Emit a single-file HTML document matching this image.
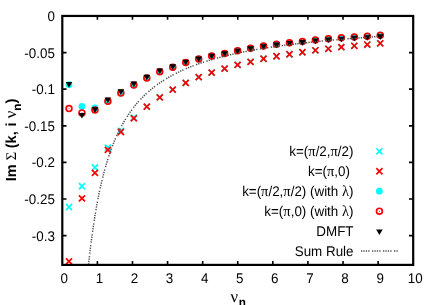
<!DOCTYPE html>
<html><head><meta charset="utf-8"><style>
html,body{margin:0;padding:0;background:#fff;}
svg{display:block;will-change:transform}
text{font-family:"Liberation Sans",sans-serif;font-size:13.4px;fill:#000;text-rendering:geometricPrecision}
.g{font-family:"Liberation Serif",serif;font-size:14.5px}
.gy{font-family:"Liberation Serif",serif}
</style></head><body>
<svg width="436" height="305" viewBox="0 0 436 305">
<path d="M65.93 203.95L72.03 210.05M65.93 210.05L72.03 203.95" stroke="#00ffff" stroke-width="1.7" fill="none"/><path d="M78.90 183.20L85.00 189.30M78.90 189.30L85.00 183.20" stroke="#00ffff" stroke-width="1.7" fill="none"/><path d="M91.87 164.45L97.97 170.55M91.87 170.55L97.97 164.45" stroke="#00ffff" stroke-width="1.7" fill="none"/><path d="M104.84 144.65L110.94 150.75M104.84 150.75L110.94 144.65" stroke="#00ffff" stroke-width="1.7" fill="none"/><path d="M117.81 127.75L123.91 133.85M117.81 133.85L123.91 127.75" stroke="#00ffff" stroke-width="1.7" fill="none"/><path d="M130.78 114.55L136.88 120.65M130.78 120.65L136.88 114.55" stroke="#00ffff" stroke-width="1.7" fill="none"/><path d="M143.75 103.60L149.85 109.70M143.75 109.70L149.85 103.60" stroke="#00ffff" stroke-width="1.7" fill="none"/><path d="M156.72 94.35L162.82 100.45M156.72 100.45L162.82 94.35" stroke="#00ffff" stroke-width="1.7" fill="none"/><path d="M169.69 86.60L175.79 92.70M169.69 92.70L175.79 86.60" stroke="#00ffff" stroke-width="1.7" fill="none"/><path d="M182.66 79.85L188.76 85.95M182.66 85.95L188.76 79.85" stroke="#00ffff" stroke-width="1.7" fill="none"/><path d="M195.63 74.10L201.73 80.20M195.63 80.20L201.73 74.10" stroke="#00ffff" stroke-width="1.7" fill="none"/><path d="M208.60 69.60L214.70 75.70M208.60 75.70L214.70 69.60" stroke="#00ffff" stroke-width="1.7" fill="none"/><path d="M221.57 65.60L227.67 71.70M221.57 71.70L227.67 65.60" stroke="#00ffff" stroke-width="1.7" fill="none"/><path d="M234.54 61.85L240.64 67.95M234.54 67.95L240.64 61.85" stroke="#00ffff" stroke-width="1.7" fill="none"/><path d="M247.50 58.79L253.60 64.89M247.50 64.89L253.60 58.79" stroke="#00ffff" stroke-width="1.7" fill="none"/><path d="M260.47 55.69L266.57 61.79M260.47 61.79L266.57 55.69" stroke="#00ffff" stroke-width="1.7" fill="none"/><path d="M273.44 53.19L279.54 59.29M273.44 59.29L279.54 53.19" stroke="#00ffff" stroke-width="1.7" fill="none"/><path d="M286.41 51.19L292.51 57.29M286.41 57.29L292.51 51.19" stroke="#00ffff" stroke-width="1.7" fill="none"/><path d="M299.38 49.19L305.48 55.29M299.38 55.29L305.48 49.19" stroke="#00ffff" stroke-width="1.7" fill="none"/><path d="M312.35 47.24L318.45 53.34M312.35 53.34L318.45 47.24" stroke="#00ffff" stroke-width="1.7" fill="none"/><path d="M325.32 45.74L331.42 51.84M325.32 51.84L331.42 45.74" stroke="#00ffff" stroke-width="1.7" fill="none"/><path d="M338.29 44.09L344.39 50.19M338.29 50.19L344.39 44.09" stroke="#00ffff" stroke-width="1.7" fill="none"/><path d="M351.26 42.74L357.36 48.84M351.26 48.84L357.36 42.74" stroke="#00ffff" stroke-width="1.7" fill="none"/><path d="M364.23 41.49L370.33 47.59M364.23 47.59L370.33 41.49" stroke="#00ffff" stroke-width="1.7" fill="none"/><path d="M377.20 40.24L383.30 46.34M377.20 46.34L383.30 40.24" stroke="#00ffff" stroke-width="1.7" fill="none"/><path d="M65.93 258.35L72.03 264.45M65.93 264.45L72.03 258.35" stroke="#ff0000" stroke-width="1.7" fill="none"/><path d="M78.90 195.35L85.00 201.45M78.90 201.45L85.00 195.35" stroke="#ff0000" stroke-width="1.7" fill="none"/><path d="M91.87 169.85L97.97 175.95M91.87 175.95L97.97 169.85" stroke="#ff0000" stroke-width="1.7" fill="none"/><path d="M104.84 146.85L110.94 152.95M104.84 152.95L110.94 146.85" stroke="#ff0000" stroke-width="1.7" fill="none"/><path d="M117.81 128.95L123.91 135.05M117.81 135.05L123.91 128.95" stroke="#ff0000" stroke-width="1.7" fill="none"/><path d="M130.78 115.35L136.88 121.45M130.78 121.45L136.88 115.35" stroke="#ff0000" stroke-width="1.7" fill="none"/><path d="M143.75 103.60L149.85 109.70M143.75 109.70L149.85 103.60" stroke="#ff0000" stroke-width="1.7" fill="none"/><path d="M156.72 94.35L162.82 100.45M156.72 100.45L162.82 94.35" stroke="#ff0000" stroke-width="1.7" fill="none"/><path d="M169.69 86.60L175.79 92.70M169.69 92.70L175.79 86.60" stroke="#ff0000" stroke-width="1.7" fill="none"/><path d="M182.66 79.85L188.76 85.95M182.66 85.95L188.76 79.85" stroke="#ff0000" stroke-width="1.7" fill="none"/><path d="M195.63 74.10L201.73 80.20M195.63 80.20L201.73 74.10" stroke="#ff0000" stroke-width="1.7" fill="none"/><path d="M208.60 69.60L214.70 75.70M208.60 75.70L214.70 69.60" stroke="#ff0000" stroke-width="1.7" fill="none"/><path d="M221.57 65.60L227.67 71.70M221.57 71.70L227.67 65.60" stroke="#ff0000" stroke-width="1.7" fill="none"/><path d="M234.54 61.85L240.64 67.95M234.54 67.95L240.64 61.85" stroke="#ff0000" stroke-width="1.7" fill="none"/><path d="M247.50 58.79L253.60 64.89M247.50 64.89L253.60 58.79" stroke="#ff0000" stroke-width="1.7" fill="none"/><path d="M260.47 55.69L266.57 61.79M260.47 61.79L266.57 55.69" stroke="#ff0000" stroke-width="1.7" fill="none"/><path d="M273.44 53.19L279.54 59.29M273.44 59.29L279.54 53.19" stroke="#ff0000" stroke-width="1.7" fill="none"/><path d="M286.41 51.19L292.51 57.29M286.41 57.29L292.51 51.19" stroke="#ff0000" stroke-width="1.7" fill="none"/><path d="M299.38 49.19L305.48 55.29M299.38 55.29L305.48 49.19" stroke="#ff0000" stroke-width="1.7" fill="none"/><path d="M312.35 47.24L318.45 53.34M312.35 53.34L318.45 47.24" stroke="#ff0000" stroke-width="1.7" fill="none"/><path d="M325.32 45.74L331.42 51.84M325.32 51.84L331.42 45.74" stroke="#ff0000" stroke-width="1.7" fill="none"/><path d="M338.29 44.09L344.39 50.19M338.29 50.19L344.39 44.09" stroke="#ff0000" stroke-width="1.7" fill="none"/><path d="M351.26 42.74L357.36 48.84M351.26 48.84L357.36 42.74" stroke="#ff0000" stroke-width="1.7" fill="none"/><path d="M364.23 41.49L370.33 47.59M364.23 47.59L370.33 41.49" stroke="#ff0000" stroke-width="1.7" fill="none"/><path d="M377.20 40.24L383.30 46.34M377.20 46.34L383.30 40.24" stroke="#ff0000" stroke-width="1.7" fill="none"/><circle cx="68.98" cy="84.70" r="3.4" fill="#00ffff"/><circle cx="81.95" cy="106.50" r="3.4" fill="#00ffff"/><circle cx="94.92" cy="108.00" r="3.4" fill="#00ffff"/><circle cx="107.89" cy="101.35" r="3.4" fill="#00ffff"/><circle cx="120.86" cy="93.10" r="3.4" fill="#00ffff"/><circle cx="133.83" cy="85.10" r="3.4" fill="#00ffff"/><circle cx="146.80" cy="77.90" r="3.4" fill="#00ffff"/><circle cx="159.77" cy="71.80" r="3.4" fill="#00ffff"/><circle cx="172.74" cy="67.15" r="3.4" fill="#00ffff"/><circle cx="185.71" cy="62.40" r="3.4" fill="#00ffff"/><circle cx="198.68" cy="58.90" r="3.4" fill="#00ffff"/><circle cx="211.65" cy="55.90" r="3.4" fill="#00ffff"/><circle cx="224.62" cy="53.40" r="3.4" fill="#00ffff"/><circle cx="237.59" cy="50.65" r="3.4" fill="#00ffff"/><circle cx="250.55" cy="48.20" r="3.4" fill="#00ffff"/><circle cx="263.52" cy="45.95" r="3.4" fill="#00ffff"/><circle cx="276.49" cy="44.20" r="3.4" fill="#00ffff"/><circle cx="289.46" cy="42.70" r="3.4" fill="#00ffff"/><circle cx="302.43" cy="41.45" r="3.4" fill="#00ffff"/><circle cx="315.40" cy="39.95" r="3.4" fill="#00ffff"/><circle cx="328.37" cy="38.70" r="3.4" fill="#00ffff"/><circle cx="341.34" cy="37.85" r="3.4" fill="#00ffff"/><circle cx="354.31" cy="36.95" r="3.4" fill="#00ffff"/><circle cx="367.28" cy="36.20" r="3.4" fill="#00ffff"/><circle cx="380.25" cy="35.20" r="3.4" fill="#00ffff"/><circle cx="68.98" cy="108.60" r="2.9" fill="none" stroke="#ff0000" stroke-width="1.7"/><circle cx="68.98" cy="108.60" r="0.55" fill="#ff0000"/><circle cx="81.95" cy="112.90" r="2.9" fill="none" stroke="#ff0000" stroke-width="1.7"/><circle cx="81.95" cy="112.90" r="0.55" fill="#ff0000"/><circle cx="94.92" cy="110.00" r="2.9" fill="none" stroke="#ff0000" stroke-width="1.7"/><circle cx="94.92" cy="110.00" r="0.55" fill="#ff0000"/><circle cx="107.89" cy="101.35" r="2.9" fill="none" stroke="#ff0000" stroke-width="1.7"/><circle cx="107.89" cy="101.35" r="0.55" fill="#ff0000"/><circle cx="120.86" cy="93.10" r="2.9" fill="none" stroke="#ff0000" stroke-width="1.7"/><circle cx="120.86" cy="93.10" r="0.55" fill="#ff0000"/><circle cx="133.83" cy="85.10" r="2.9" fill="none" stroke="#ff0000" stroke-width="1.7"/><circle cx="133.83" cy="85.10" r="0.55" fill="#ff0000"/><circle cx="146.80" cy="77.90" r="2.9" fill="none" stroke="#ff0000" stroke-width="1.7"/><circle cx="146.80" cy="77.90" r="0.55" fill="#ff0000"/><circle cx="159.77" cy="71.80" r="2.9" fill="none" stroke="#ff0000" stroke-width="1.7"/><circle cx="159.77" cy="71.80" r="0.55" fill="#ff0000"/><circle cx="172.74" cy="67.15" r="2.9" fill="none" stroke="#ff0000" stroke-width="1.7"/><circle cx="172.74" cy="67.15" r="0.55" fill="#ff0000"/><circle cx="185.71" cy="62.40" r="2.9" fill="none" stroke="#ff0000" stroke-width="1.7"/><circle cx="185.71" cy="62.40" r="0.55" fill="#ff0000"/><circle cx="198.68" cy="58.90" r="2.9" fill="none" stroke="#ff0000" stroke-width="1.7"/><circle cx="198.68" cy="58.90" r="0.55" fill="#ff0000"/><circle cx="211.65" cy="55.90" r="2.9" fill="none" stroke="#ff0000" stroke-width="1.7"/><circle cx="211.65" cy="55.90" r="0.55" fill="#ff0000"/><circle cx="224.62" cy="53.40" r="2.9" fill="none" stroke="#ff0000" stroke-width="1.7"/><circle cx="224.62" cy="53.40" r="0.55" fill="#ff0000"/><circle cx="237.59" cy="50.65" r="2.9" fill="none" stroke="#ff0000" stroke-width="1.7"/><circle cx="237.59" cy="50.65" r="0.55" fill="#ff0000"/><circle cx="250.55" cy="48.20" r="2.9" fill="none" stroke="#ff0000" stroke-width="1.7"/><circle cx="250.55" cy="48.20" r="0.55" fill="#ff0000"/><circle cx="263.52" cy="45.95" r="2.9" fill="none" stroke="#ff0000" stroke-width="1.7"/><circle cx="263.52" cy="45.95" r="0.55" fill="#ff0000"/><circle cx="276.49" cy="44.20" r="2.9" fill="none" stroke="#ff0000" stroke-width="1.7"/><circle cx="276.49" cy="44.20" r="0.55" fill="#ff0000"/><circle cx="289.46" cy="42.70" r="2.9" fill="none" stroke="#ff0000" stroke-width="1.7"/><circle cx="289.46" cy="42.70" r="0.55" fill="#ff0000"/><circle cx="302.43" cy="41.45" r="2.9" fill="none" stroke="#ff0000" stroke-width="1.7"/><circle cx="302.43" cy="41.45" r="0.55" fill="#ff0000"/><circle cx="315.40" cy="39.95" r="2.9" fill="none" stroke="#ff0000" stroke-width="1.7"/><circle cx="315.40" cy="39.95" r="0.55" fill="#ff0000"/><circle cx="328.37" cy="38.70" r="2.9" fill="none" stroke="#ff0000" stroke-width="1.7"/><circle cx="328.37" cy="38.70" r="0.55" fill="#ff0000"/><circle cx="341.34" cy="37.85" r="2.9" fill="none" stroke="#ff0000" stroke-width="1.7"/><circle cx="341.34" cy="37.85" r="0.55" fill="#ff0000"/><circle cx="354.31" cy="36.95" r="2.9" fill="none" stroke="#ff0000" stroke-width="1.7"/><circle cx="354.31" cy="36.95" r="0.55" fill="#ff0000"/><circle cx="367.28" cy="36.20" r="2.9" fill="none" stroke="#ff0000" stroke-width="1.7"/><circle cx="367.28" cy="36.20" r="0.55" fill="#ff0000"/><circle cx="380.25" cy="35.20" r="2.9" fill="none" stroke="#ff0000" stroke-width="1.7"/><circle cx="380.25" cy="35.20" r="0.55" fill="#ff0000"/><path d="M65.68 82.10L72.28 82.10L68.98 87.80Z" fill="#000"/><path d="M78.65 112.90L85.25 112.90L81.95 118.60Z" fill="#000"/><path d="M91.62 107.30L98.22 107.30L94.92 113.00Z" fill="#000"/><path d="M104.59 97.45L111.19 97.45L107.89 103.15Z" fill="#000"/><path d="M117.56 89.30L124.16 89.30L120.86 95.00Z" fill="#000"/><path d="M130.53 81.50L137.13 81.50L133.83 87.20Z" fill="#000"/><path d="M143.50 74.65L150.10 74.65L146.80 80.35Z" fill="#000"/><path d="M156.47 68.60L163.07 68.60L159.77 74.30Z" fill="#000"/><path d="M169.44 64.25L176.04 64.25L172.74 69.95Z" fill="#000"/><path d="M182.41 59.80L189.01 59.80L185.71 65.50Z" fill="#000"/><path d="M195.38 56.50L201.98 56.50L198.68 62.20Z" fill="#000"/><path d="M208.35 53.65L214.95 53.65L211.65 59.35Z" fill="#000"/><path d="M221.32 51.25L227.92 51.25L224.62 56.95Z" fill="#000"/><path d="M234.29 48.65L240.89 48.65L237.59 54.35Z" fill="#000"/><path d="M247.25 46.30L253.85 46.30L250.55 52.00Z" fill="#000"/><path d="M260.22 44.15L266.82 44.15L263.52 49.85Z" fill="#000"/><path d="M273.19 42.50L279.79 42.50L276.49 48.20Z" fill="#000"/><path d="M286.16 41.10L292.76 41.10L289.46 46.80Z" fill="#000"/><path d="M299.13 39.95L305.73 39.95L302.43 45.65Z" fill="#000"/><path d="M312.10 38.55L318.70 38.55L315.40 44.25Z" fill="#000"/><path d="M325.07 37.40L331.67 37.40L328.37 43.10Z" fill="#000"/><path d="M338.04 36.65L344.64 36.65L341.34 42.35Z" fill="#000"/><path d="M351.01 35.85L357.61 35.85L354.31 41.55Z" fill="#000"/><path d="M363.98 35.15L370.58 35.15L367.28 40.85Z" fill="#000"/><path d="M376.95 34.30L383.55 34.30L380.25 40.00Z" fill="#000"/>
<path d="M88.55 264.53L89.25 258.06L89.96 251.92L90.66 246.08L91.36 240.52L92.06 235.23L92.76 230.17L93.47 225.35L94.17 220.74L94.87 216.33L95.57 212.10L96.27 208.05L96.97 204.16L97.68 200.43L98.38 196.84L99.08 193.39L99.78 190.06L100.48 186.86L101.19 183.78L101.89 180.80L102.59 177.93L103.29 175.16L103.99 172.48L104.69 169.89L105.40 167.38L106.10 164.95L106.80 162.60L107.50 160.33L108.20 158.12L108.91 155.98L109.61 153.90L110.31 151.88L111.01 149.93L111.71 148.02L112.41 146.17L113.12 144.38L113.82 142.63L114.52 140.92L115.22 139.27L115.92 137.65L116.62 136.08L117.33 134.55L118.03 133.05L118.73 131.60L119.43 130.18L120.13 128.79L120.84 127.44L121.54 126.12L122.24 124.83L122.94 123.57L123.64 122.34L124.34 121.13L125.05 119.96L125.75 118.81L126.45 117.68L127.15 116.58L127.85 115.50L128.56 114.45L129.26 113.42L129.96 112.40L130.66 111.41L131.36 110.44L132.06 109.49L132.77 108.56L133.47 107.65L134.17 106.75L134.87 105.88L135.57 105.01L136.28 104.17L136.98 103.34L137.68 102.53L138.38 101.73L139.08 100.94L139.78 100.17L140.49 99.42L141.19 98.68L141.89 97.95L142.59 97.23L143.29 96.53L144.00 95.83L144.70 95.15L145.40 94.48L146.10 93.83L146.80 93.18L147.50 92.54L148.21 91.92L148.91 91.30L149.61 90.70L150.31 90.10L151.01 89.51L151.71 88.94L152.42 88.37L153.12 87.81L153.82 87.26L154.52 86.71L155.22 86.18L155.93 85.65L156.63 85.14L157.33 84.62L158.03 84.12L158.73 83.62L159.43 83.14L160.14 82.65L160.84 82.18L161.54 81.71L162.24 81.25L162.94 80.79L163.65 80.34L164.35 79.90L165.05 79.46L165.75 79.03L166.45 78.61L167.15 78.19L167.86 77.78L168.56 77.37L169.26 76.96L169.96 76.57L170.66 76.17L171.37 75.79L172.07 75.40L172.77 75.03L173.47 74.65L174.17 74.28L174.87 73.92L175.58 73.56L176.28 73.21L176.98 72.86L177.68 72.51L178.38 72.17L179.09 71.83L179.79 71.50L180.49 71.17L181.19 70.84L181.89 70.52L182.59 70.20L183.30 69.89L184.00 69.58L184.70 69.27L185.40 68.96L186.10 68.66L186.80 68.37L187.51 68.07L188.21 67.78L188.91 67.49L189.61 67.21L190.31 66.93L191.02 66.65L191.72 66.38L192.42 66.10L193.12 65.84L193.82 65.57L194.52 65.31L195.23 65.05L195.93 64.79L196.63 64.53L197.33 64.28L198.03 64.03L198.74 63.78L199.44 63.54L200.14 63.30L200.84 63.06L201.54 62.82L202.24 62.58L202.95 62.35L203.65 62.12L204.35 61.89L205.05 61.67L205.75 61.44L206.46 61.22L207.16 61.00L207.86 60.78L208.56 60.57L209.26 60.36L209.96 60.15L210.67 59.94L211.37 59.73L212.07 59.52L212.77 59.32L213.47 59.12L214.18 58.92L214.88 58.72L215.58 58.53L216.28 58.33L216.98 58.14L217.68 57.95L218.39 57.76L219.09 57.57L219.79 57.39L220.49 57.20L221.19 57.02L221.89 56.84L222.60 56.66L223.30 56.48L224.00 56.31L224.70 56.13L225.40 55.96L226.11 55.79L226.81 55.62L227.51 55.45L228.21 55.28L228.91 55.12L229.61 54.95L230.32 54.79L231.02 54.63L231.72 54.47L232.42 54.31L233.12 54.15L233.83 54.00L234.53 53.84L235.23 53.69L235.93 53.54L236.63 53.38L237.33 53.23L238.04 53.09L238.74 52.94L239.44 52.79L240.14 52.65L240.84 52.50L241.55 52.36L242.25 52.22L242.95 52.08L243.65 51.94L244.35 51.80L245.05 51.66L245.76 51.52L246.46 51.39L247.16 51.25L247.86 51.12L248.56 50.99L249.27 50.86L249.97 50.72L250.67 50.60L251.37 50.47L252.07 50.34L252.77 50.21L253.48 50.09L254.18 49.96L254.88 49.84L255.58 49.71L256.28 49.59L256.98 49.47L257.69 49.35L258.39 49.23L259.09 49.11L259.79 48.99L260.49 48.88L261.20 48.76L261.90 48.65L262.60 48.53L263.30 48.42L264.00 48.30L264.70 48.19L265.41 48.08L266.11 47.97L266.81 47.86L267.51 47.75L268.21 47.64L268.92 47.54L269.62 47.43L270.32 47.32L271.02 47.22L271.72 47.11L272.42 47.01L273.13 46.90L273.83 46.80L274.53 46.70L275.23 46.60L275.93 46.50L276.64 46.40L277.34 46.30L278.04 46.20L278.74 46.10L279.44 46.00L280.14 45.91L280.85 45.81L281.55 45.72L282.25 45.62L282.95 45.53L283.65 45.43L284.36 45.34L285.06 45.25L285.76 45.15L286.46 45.06L287.16 44.97L287.86 44.88L288.57 44.79L289.27 44.70L289.97 44.61L290.67 44.53L291.37 44.44L292.07 44.35L292.78 44.27L293.48 44.18L294.18 44.09L294.88 44.01L295.58 43.92L296.29 43.84L296.99 43.76L297.69 43.67L298.39 43.59L299.09 43.51L299.79 43.43L300.50 43.35L301.20 43.27L301.90 43.19L302.60 43.11L303.30 43.03L304.01 42.95L304.71 42.87L305.41 42.79L306.11 42.72L306.81 42.64L307.51 42.56L308.22 42.49L308.92 42.41L309.62 42.34L310.32 42.26L311.02 42.19L311.73 42.11L312.43 42.04L313.13 41.97L313.83 41.90L314.53 41.82L315.23 41.75L315.94 41.68L316.64 41.61L317.34 41.54L318.04 41.47L318.74 41.40L319.45 41.33L320.15 41.26L320.85 41.19L321.55 41.12L322.25 41.05L322.95 40.99L323.66 40.92L324.36 40.85L325.06 40.79L325.76 40.72L326.46 40.65L327.16 40.59L327.87 40.52L328.57 40.46L329.27 40.39L329.97 40.33L330.67 40.27L331.38 40.20L332.08 40.14L332.78 40.08L333.48 40.02L334.18 39.95L334.88 39.89L335.59 39.83L336.29 39.77L336.99 39.71L337.69 39.65L338.39 39.59L339.10 39.53L339.80 39.47L340.50 39.41L341.20 39.35L341.90 39.29L342.60 39.23L343.31 39.17L344.01 39.12L344.71 39.06L345.41 39.00L346.11 38.94L346.82 38.89L347.52 38.83L348.22 38.77L348.92 38.72L349.62 38.66L350.32 38.61L351.03 38.55L351.73 38.50L352.43 38.44L353.13 38.39L353.83 38.34L354.54 38.28L355.24 38.23L355.94 38.17L356.64 38.12L357.34 38.07L358.04 38.02L358.75 37.96L359.45 37.91L360.15 37.86L360.85 37.81L361.55 37.76L362.25 37.71L362.96 37.66L363.66 37.61L364.36 37.56L365.06 37.51L365.76 37.46L366.47 37.41L367.17 37.36L367.87 37.31L368.57 37.26L369.27 37.21L369.97 37.16L370.68 37.11L371.38 37.06L372.08 37.02L372.78 36.97L373.48 36.92L374.19 36.87L374.89 36.83L375.59 36.78L376.29 36.73L376.99 36.69L377.69 36.64L378.40 36.60L379.10 36.55L379.80 36.50" fill="none" stroke="#505050" stroke-width="1.5" stroke-dasharray="1.3 1.1 1.3 1.1 1.3 1.1 1.3 2.5"/>
<g>
<rect x="62.3" y="15.95" width="350.9" height="248.95" fill="none" stroke="#000" stroke-width="2.2"/><text transform="translate(64.30,283.2) scale(1,1.05)" text-anchor="middle">0</text><path d="M97.39 264.9v-3.8M97.39 15.95v3.8" stroke="#000" stroke-width="1.6"/><text transform="translate(99.39,283.2) scale(1,1.05)" text-anchor="middle">1</text><path d="M132.48 264.9v-3.8M132.48 15.95v3.8" stroke="#000" stroke-width="1.6"/><text transform="translate(134.48,283.2) scale(1,1.05)" text-anchor="middle">2</text><path d="M167.57 264.9v-3.8M167.57 15.95v3.8" stroke="#000" stroke-width="1.6"/><text transform="translate(169.57,283.2) scale(1,1.05)" text-anchor="middle">3</text><path d="M202.66 264.9v-3.8M202.66 15.95v3.8" stroke="#000" stroke-width="1.6"/><text transform="translate(204.66,283.2) scale(1,1.05)" text-anchor="middle">4</text><path d="M237.75 264.9v-3.8M237.75 15.95v3.8" stroke="#000" stroke-width="1.6"/><text transform="translate(239.75,283.2) scale(1,1.05)" text-anchor="middle">5</text><path d="M272.84 264.9v-3.8M272.84 15.95v3.8" stroke="#000" stroke-width="1.6"/><text transform="translate(274.84,283.2) scale(1,1.05)" text-anchor="middle">6</text><path d="M307.93 264.9v-3.8M307.93 15.95v3.8" stroke="#000" stroke-width="1.6"/><text transform="translate(309.93,283.2) scale(1,1.05)" text-anchor="middle">7</text><path d="M343.02 264.9v-3.8M343.02 15.95v3.8" stroke="#000" stroke-width="1.6"/><text transform="translate(345.02,283.2) scale(1,1.05)" text-anchor="middle">8</text><path d="M378.11 264.9v-3.8M378.11 15.95v3.8" stroke="#000" stroke-width="1.6"/><text transform="translate(380.11,283.2) scale(1,1.05)" text-anchor="middle">9</text><text transform="translate(415.20,283.2) scale(1,1.05)" text-anchor="middle">10</text><text transform="translate(54.9,21.05) scale(1,1.05)" text-anchor="end">0</text><path d="M62.3 52.56h4.2M413.2 52.56h-4.2" stroke="#000" stroke-width="1.7"/><text transform="translate(54.9,57.66) scale(1,1.05)" text-anchor="end">-0.05</text><path d="M62.3 89.17h4.2M413.2 89.17h-4.2" stroke="#000" stroke-width="1.7"/><text transform="translate(54.9,94.27) scale(1,1.05)" text-anchor="end">-0.1</text><path d="M62.3 125.78h4.2M413.2 125.78h-4.2" stroke="#000" stroke-width="1.7"/><text transform="translate(54.9,130.88) scale(1,1.05)" text-anchor="end">-0.15</text><path d="M62.3 162.39h4.2M413.2 162.39h-4.2" stroke="#000" stroke-width="1.7"/><text transform="translate(54.9,167.49) scale(1,1.05)" text-anchor="end">-0.2</text><path d="M62.3 199.00h4.2M413.2 199.00h-4.2" stroke="#000" stroke-width="1.7"/><text transform="translate(54.9,204.10) scale(1,1.05)" text-anchor="end">-0.25</text><path d="M62.3 235.61h4.2M413.2 235.61h-4.2" stroke="#000" stroke-width="1.7"/><text transform="translate(54.9,240.71) scale(1,1.05)" text-anchor="end">-0.3</text>
<text transform="translate(353.5,156.10) scale(1,1.05)" text-anchor="end">k=(<tspan class="g">π</tspan>/2,<tspan class="g">π</tspan>/2)</text><text transform="translate(349.9,176.05) scale(1,1.05)" text-anchor="end">k=(<tspan class="g">π</tspan>,0)</text><text transform="translate(353.5,196.00) scale(1,1.05)" text-anchor="end">k=(<tspan class="g">π</tspan>/2,<tspan class="g">π</tspan>/2) (with <tspan class="g">λ</tspan>)</text><text transform="translate(353.5,215.95) scale(1,1.05)" text-anchor="end">k=(<tspan class="g">π</tspan>,0) (with <tspan class="g">λ</tspan>)</text><text transform="translate(353.5,235.90) scale(1,1.05)" text-anchor="end">DMFT</text><text transform="translate(353.5,255.85) scale(1,1.05)" text-anchor="end">Sum Rule</text><path d="M376.35 148.25L382.45 154.35M376.35 154.35L382.45 148.25" stroke="#00ffff" stroke-width="1.7" fill="none"/><path d="M376.35 168.20L382.45 174.30M376.35 174.30L382.45 168.20" stroke="#ff0000" stroke-width="1.7" fill="none"/><circle cx="379.40" cy="191.20" r="3.4" fill="#00ffff"/><circle cx="379.40" cy="211.15" r="2.9" fill="none" stroke="#ff0000" stroke-width="1.7"/><circle cx="379.40" cy="211.15" r="0.55" fill="#ff0000"/><path d="M376.10 229.40L382.70 229.40L379.40 235.10Z" fill="#000"/><path d="M361 251.05H398" fill="none" stroke="#505050" stroke-width="1.5" stroke-dasharray="1.3 1.1 1.3 1.1 1.3 1.1 1.3 2.5"/>
<text transform="translate(16.4,181.3) rotate(-90)" font-weight="bold" style="font-size:14.6px">Im <tspan class="gy" font-weight="normal">Σ</tspan><tspan dx="-0.7"> </tspan>(k,<tspan dx="0.8"> </tspan>i <tspan class="gy" font-weight="normal" style="font-size:16.8px">ν</tspan><tspan style="font-size:11.7px" dy="4.1">n</tspan><tspan dy="-4.1">)</tspan></text>
<text x="230.6" y="301.5" style="font-size:14.6px"><tspan class="gy" style="font-size:16.8px">ν</tspan><tspan style="font-size:11.7px" dy="4.2" dx="0.6" font-weight="bold">n</tspan></text>
</g>
</svg>
</body></html>
